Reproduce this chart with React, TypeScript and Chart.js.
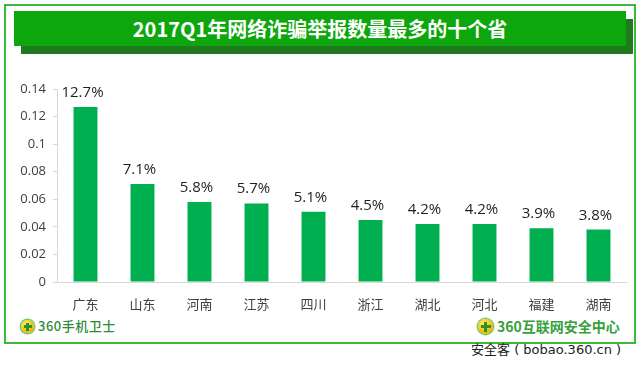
import React, { useEffect, useRef } from "react";
import { Chart, registerables } from "chart.js";

Chart.register(...registerables);

const TITLE = "2017Q1年网络诈骗举报数量最多的十个省";
const PROVINCES = ["广东", "山东", "河南", "江苏", "四川", "浙江", "湖北", "河北", "福建", "湖南"];
const SHARES = [0.127, 0.071, 0.058, 0.057, 0.051, 0.045, 0.042, 0.042, 0.039, 0.038];
const Y_MIN = 0;
const Y_MAX = 0.14;
const Y_STEP = 0.02;
const LEFT_BRAND = "360手机卫士";
const RIGHT_BRAND = "360互联网安全中心";
const SOURCE = "安全客 ( bobao.360.cn )";

const FONT = "'Open Sans', 'Noto Sans CJK SC', sans-serif";
const BAR_GREEN = "#00B050";

const valueLabels = {
  id: "valueLabels",
  afterDatasetsDraw(chart: any) {
    const ctx = chart.ctx;
    const meta = chart.getDatasetMeta(0);
    ctx.save();
    ctx.font = `15px ${FONT}`;
    ctx.fillStyle = "#1f1f1f";
    ctx.textAlign = "center";
    ctx.textBaseline = "alphabetic";
    meta.data.forEach((bar: any, i: number) => {
      const v = chart.data.datasets[0].data[i] as number;
      ctx.fillText((v * 100).toFixed(1) + "%", bar.x - 3, bar.y - 10);
    });
    ctx.restore();
  },
};

function Badge({ left, top, size }: { left: number; top: number; size: number }) {
  return (
    <div
      style={{
        position: "absolute",
        left,
        top,
        width: size,
        height: size,
        borderRadius: "50%",
        background: "radial-gradient(circle at 40% 35%, #fff27a 0%, #f2c300 55%, #c99a00 100%)",
        boxShadow: "0 0 0 1.5px #7cc576",
      }}
    >
      <div style={{ position: "absolute", left: size / 2 - 1.5, top: 2.5, width: 3, height: size - 5, background: "#2f8f2f" }} />
      <div style={{ position: "absolute", top: size / 2 - 1.5, left: 2.5, height: 3, width: size - 5, background: "#2f8f2f" }} />
    </div>
  );
}

export default function App() {
  const canvasRef = useRef<HTMLCanvasElement | null>(null);

  useEffect(() => {
    if (!canvasRef.current) return;
    const chart = new Chart(canvasRef.current, {
      type: "bar",
      data: {
        labels: PROVINCES,
        datasets: [
          {
            data: SHARES,
            backgroundColor: BAR_GREEN,
            borderWidth: 0,
            categoryPercentage: 1,
            barPercentage: 0.42,
          },
        ],
      },
      options: {
        responsive: false,
        animation: false,
        devicePixelRatio: 1,
        layout: { padding: { left: 0, right: 13, top: 33, bottom: 0 } },
        plugins: { legend: { display: false }, tooltip: { enabled: false }, title: { display: false } },
        scales: {
          x: {
            grid: { display: false },
            border: { display: true, color: "#d9d9d9", width: 1 },
            ticks: { color: "#404040", font: { size: 13, family: FONT }, padding: 7, maxRotation: 0, autoSkip: false },
            afterFit: (s: any) => {
              s.height = 30;
            },
          },
          y: {
            min: Y_MIN,
            max: Y_MAX,
            grid: { drawOnChartArea: false, drawTicks: true, tickLength: 4, color: "#d9d9d9" },
            border: { display: true, color: "#d9d9d9", width: 1 },
            ticks: {
              stepSize: Y_STEP,
              color: "#404040",
              padding: 7,
              font: { size: 13, family: FONT },
              callback: (v: any) => String(Number(Number(v).toFixed(2))),
            },
            afterFit: (s: any) => {
              s.width = 57;
            },
          },
        },
      },
      plugins: [valueLabels],
    });
    return () => chart.destroy();
  }, []);

  return (
    <div style={{ position: "fixed", left: 0, top: 0, width: 640, height: 369, background: "#fff", overflow: "hidden", fontFamily: FONT }}>
      <div style={{ position: "absolute", left: 4, top: 4, width: 632, height: 340, border: "2px solid #3cb83c", boxSizing: "border-box" }} />
      <div style={{ position: "absolute", left: 21, top: 19, width: 612, height: 35, background: "#1f7a1f" }} />
      <div
        style={{
          position: "absolute",
          left: 14,
          top: 11,
          width: 612,
          height: 35,
          background: "#0da70d",
          color: "#fff",
          fontWeight: "bold",
          fontSize: 20,
          lineHeight: "35px",
          textAlign: "center",
          fontFamily: "'Noto Sans CJK SC', 'Open Sans', sans-serif",
        }}
      >
        {TITLE}
      </div>
      <canvas ref={canvasRef} width={640} height={256} style={{ position: "absolute", left: 0, top: 56, width: 640, height: 256 }} />
      <Badge left={21} top={320} size={13} />
      <div style={{ position: "absolute", left: 38, top: 317, fontSize: 13, fontWeight: 500, color: "#2f8a3a", lineHeight: "18px", whiteSpace: "nowrap", letterSpacing: 0.5, fontFamily: "'Noto Sans CJK SC', sans-serif" }}>
        {LEFT_BRAND}
      </div>
      <Badge left={478} top={319} size={15} />
      <div style={{ position: "absolute", left: 497, top: 317, fontSize: 14, fontWeight: "bold", color: "#36a03a", lineHeight: "18px", whiteSpace: "nowrap", fontFamily: "'Noto Sans CJK SC', sans-serif" }}>
        {RIGHT_BRAND}
      </div>
      <div style={{ position: "absolute", left: 471, top: 342, fontSize: 13, color: "#222", lineHeight: "16px", whiteSpace: "pre", fontFamily: "'DejaVu Sans', 'Noto Sans CJK SC', sans-serif" }}>
        {SOURCE}
      </div>
    </div>
  );
}
